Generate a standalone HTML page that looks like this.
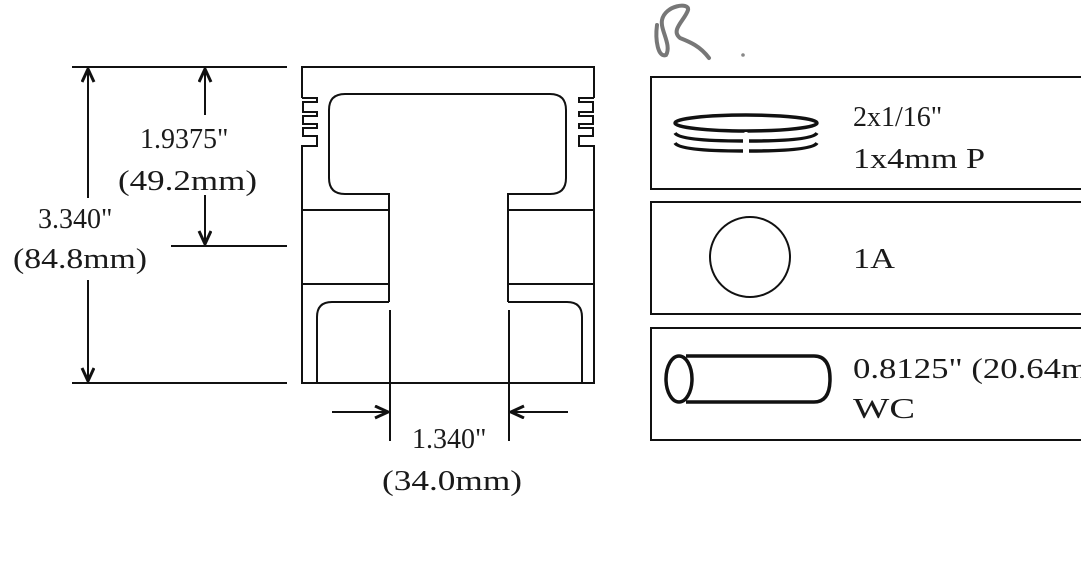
<!DOCTYPE html>
<html><head><meta charset="utf-8"><style>
html,body{margin:0;padding:0;background:#fff;}
svg{display:block}
text{font-family:"Liberation Serif",serif;fill:#1a1a1a;}
</style></head><body>
<svg width="1081" height="587" viewBox="0 0 1081 587" xmlns="http://www.w3.org/2000/svg">
<defs>
<marker id="ah" markerWidth="16" markerHeight="16" refX="14" refY="7" orient="auto" markerUnits="userSpaceOnUse">
<path d="M1,1 L14,7 L1,13" fill="none" stroke="#111" stroke-width="3"/>
</marker>
</defs>
<g stroke="#111" stroke-width="2" fill="none">
<line x1="72" y1="67" x2="287" y2="67"/>
<line x1="171" y1="246" x2="287" y2="246"/>
<line x1="72" y1="383" x2="287" y2="383"/>
<line x1="88" y1="198" x2="88" y2="69" marker-end="url(#ah)"/>
<line x1="88" y1="280" x2="88" y2="381" marker-end="url(#ah)"/>
<line x1="205" y1="115" x2="205" y2="69" marker-end="url(#ah)"/>
<line x1="205" y1="195" x2="205" y2="244" marker-end="url(#ah)"/>
<path d="M302,98 L302,67 L594,67 L594,98"/>
<path d="M302,98 L317,98 L317,102 L303,102 L303,112 L317,112 L317,116 L303,116 L303,124 L317,124 L317,128 L303,128 L303,136 L317,136 L317,146 L302,146 L302,383 L594,383 L594,146 L579,146 L579,136 L593,136 L593,128 L579,128 L579,124 L593,124 L593,116 L579,116 L579,112 L593,112 L593,102 L579,102 L579,98 L594,98"/>
<path d="M389,302 L389,194 L345,194 Q329,194 329,178 L329,110 Q329,94 345,94 L550,94 Q566,94 566,110 L566,178 Q566,194 550,194 L508,194 L508,302"/>
<line x1="302" y1="210" x2="389" y2="210"/>
<line x1="508" y1="210" x2="594" y2="210"/>
<line x1="302" y1="284" x2="389" y2="284"/>
<line x1="508" y1="284" x2="594" y2="284"/>
<path d="M389,302 L332,302 Q317,302 317,317 L317,383"/>
<path d="M508,302 L567,302 Q582,302 582,317 L582,383"/>
<line x1="390" y1="310" x2="390" y2="441"/>
<line x1="509" y1="310" x2="509" y2="441"/>
<line x1="332" y1="412" x2="388" y2="412" marker-end="url(#ah)"/>
<line x1="568" y1="412" x2="511" y2="412" marker-end="url(#ah)"/>
<path d="M1085,77 L651,77 L651,189 L1085,189"/>
<path d="M1085,202 L651,202 L651,314 L1085,314"/>
<path d="M1085,328 L651,328 L651,440 L1085,440"/>
<circle cx="750" cy="257" r="40"/>
</g>
<g stroke="#111" stroke-width="3.5" fill="none">
<ellipse cx="746" cy="123" rx="71" ry="8"/>
<path d="M675,133 Q680,141 743,141 M749,141 Q812,141 817,133"/>
<path d="M675,143 Q680,151 743,151 M749,151 Q812,151 817,143"/>
<line x1="746" y1="132" x2="746" y2="153" stroke="#fff" stroke-width="3"/>
<path d="M686,356 L814,356 Q830,356 830,379 Q830,402 814,402 L686,402"/>
<ellipse cx="679" cy="379" rx="13" ry="23"/>
</g>
<path d="M657,25 C655,40 658,58 666,55 C672,45 660,30 662,20 C665,5 690,2 688,10 C685,20 670,30 680,38 C690,42 700,46 709,58" stroke="#777" stroke-width="4" fill="none" stroke-linecap="round"/>
<circle cx="743" cy="55" r="1.8" fill="#888"/>
<g font-size="29">
<text x="140" y="148" font-size="28">1.9375"</text>
<text x="118" y="190" textLength="139" lengthAdjust="spacingAndGlyphs">(49.2mm)</text>
<text x="38" y="228" font-size="28">3.340"</text>
<text x="13" y="268" textLength="134" lengthAdjust="spacingAndGlyphs">(84.8mm)</text>
<text x="412" y="448" font-size="28">1.340"</text>
<text x="382" y="490" textLength="140" lengthAdjust="spacingAndGlyphs">(34.0mm)</text>
<text x="853" y="126" font-size="28">2x1/16"</text>
<text x="853" y="168" textLength="132" lengthAdjust="spacingAndGlyphs">1x4mm P</text>
<text x="853" y="268" textLength="42" lengthAdjust="spacingAndGlyphs">1A</text>
<text x="853" y="378" textLength="235" lengthAdjust="spacingAndGlyphs">0.8125" (20.64m</text>
<text x="853" y="418" textLength="62" lengthAdjust="spacingAndGlyphs">WC</text>
</g>
</svg>
</body></html>
